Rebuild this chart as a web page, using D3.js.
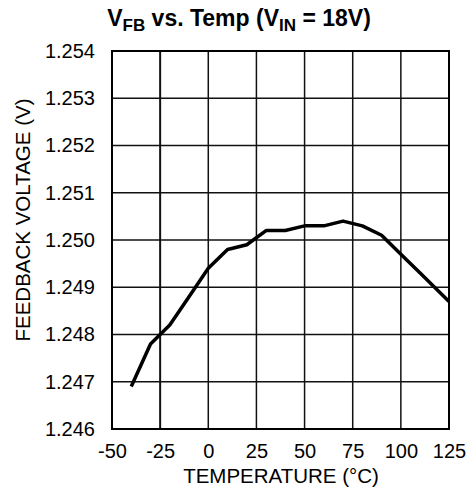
<!DOCTYPE html>
<html><head><meta charset="utf-8">
<script src="https://cdn.jsdelivr.net/npm/d3@7"></script>
<style>body{margin:0;background:#fff}svg{display:block}text{font-family:"Liberation Sans",Arial,sans-serif;fill:#000}</style>
</head><body>
<script>
const temps = [-40,-30,-20,-10,0,10,20,30,40,50,60,70,80,90,100,110,120,125];
const vfb = [1.2469,1.2478,1.2482,1.2488,1.2494,1.2498,1.2499,1.2502,1.2502,1.2503,1.2503,1.2504,1.2503,1.2501,1.2497,1.2493,1.2489,1.2487];
const xTicks = [-50,-25,0,25,50,75,100,125];
const yTicks = [1.246,1.247,1.248,1.249,1.250,1.251,1.252,1.253,1.254];

const W=471,H=503;
const m={l:112,r:449,t:51,b:429};
const svg=d3.select("body").append("svg").attr("width",W).attr("height",H);
const x=d3.scaleLinear().domain([-50,125]).range([m.l,m.r]);
const y=d3.scaleLinear().domain([1.246,1.254]).range([m.b,m.t]);

// grid
svg.append("g").selectAll("line").data(xTicks.slice(1,-1)).join("line")
  .attr("x1",d=>x(d)).attr("x2",d=>x(d)).attr("y1",m.t).attr("y2",m.b)
  .attr("stroke","#111").attr("stroke-width",d=>d===-25?2:1.5);
svg.append("g").selectAll("line").data(yTicks.slice(1,-1)).join("line")
  .attr("y1",d=>y(d)).attr("y2",d=>y(d)).attr("x1",m.l).attr("x2",m.r)
  .attr("stroke","#111").attr("stroke-width",1.5);

// axes (labels only)
const xa=svg.append("g").attr("transform",`translate(0,${m.b})`)
  .call(d3.axisBottom(x).tickValues(xTicks).tickSize(0).tickPadding(15).tickFormat(d=>String(d)));
const ya=svg.append("g").attr("transform",`translate(${m.l},0)`)
  .call(d3.axisLeft(y).tickValues(yTicks).tickSize(0).tickPadding(17).tickFormat(d3.format(".3f")));
[xa,ya].forEach(a=>{a.select(".domain").remove();a.selectAll("text").attr("font-size",20).attr("font-family","Liberation Sans, Arial, sans-serif").attr("fill","#000");});

// border
svg.append("rect").attr("x",m.l).attr("y",m.t).attr("width",m.r-m.l).attr("height",m.b-m.t)
  .attr("fill","none").attr("stroke","#000").attr("stroke-width",2);

// curve
svg.append("path").datum(temps.map((t,i)=>[t,vfb[i]]))
  .attr("d",d3.line().x(d=>x(d[0])).y(d=>y(d[1])))
  .attr("fill","none").attr("stroke","#000").attr("stroke-width",3.5).attr("stroke-linejoin","round");

// title
const tt=svg.append("text").attr("x",239).attr("y",26).attr("text-anchor","middle")
  .attr("font-size",23).attr("font-weight","bold");
tt.append("tspan").text("V");
tt.append("tspan").attr("font-size",17).attr("dy",5).text("FB");
tt.append("tspan").attr("dy",-5).text(" vs. Temp (V");
tt.append("tspan").attr("font-size",17).attr("dy",5).text("IN");
tt.append("tspan").attr("dy",-5).text(" = 18V)");

// axis titles
svg.append("text").attr("x",281).attr("y",483).attr("text-anchor","middle").attr("font-size",20.5).text("TEMPERATURE (°C)");
svg.append("text").attr("transform","translate(30,220) rotate(-90)").attr("text-anchor","middle").attr("font-size",20.5).text("FEEDBACK VOLTAGE (V)");
</script>
</body></html>
